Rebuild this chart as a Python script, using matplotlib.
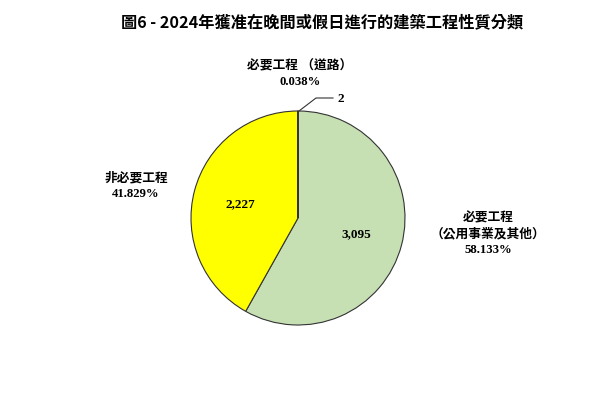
import matplotlib.pyplot as plt

plt.rcParams['font.family'] = ['Liberation Serif', 'Noto Sans CJK TC']

counts = [3095, 2227, 2]
cats = ['必要工程\n（公用事業及其他）', '非必要工程', '必要工程 （道路）']
shares = ['58.133%', '41.829%', '0.038%']
colors = ['#C6E0B4', '#FFFF00', '#C6E0B4']

fig = plt.figure(figsize=(6.01, 4.06), dpi=100)
ax = fig.add_axes([0, 0, 1, 1])

cx, cy, r = 298, 406 - 219, 107

wedges, texts = ax.pie(counts, colors=colors, startangle=90, counterclock=False,
                       center=(cx, cy), radius=r,
                       labels=[f'{c:,}' if c > 10 else '' for c in counts],
                       labeldistance=0.56,
                       wedgeprops=dict(edgecolor='#333333', linewidth=0.8),
                       textprops=dict(fontsize=9.5, fontweight='bold'))
for t in texts:
    t.set_ha('center')

# leader for the tiny slice
ax.plot([299, 316, 333], [406 - 112, 406 - 99, 406 - 99], color='#333333', lw=0.8)
ax.text(337, 406 - 99, str(counts[2]), fontsize=9.5, fontweight='bold', va='center')

lbl = dict(ha='center', va='center', fontsize=9.2, fontweight='bold', linespacing=1.35)
ax.text(300, 406 - 74, cats[2] + '\n' + shares[2], **lbl)
ax.text(136, 406 - 186, cats[1] + '\n' + shares[1], **lbl)
ax.text(488, 406 - 234, cats[0] + '\n' + shares[0], **lbl)

ax.set_xlim(0, 601)
ax.set_ylim(0, 406)
ax.axis('off')

fig.text(322 / 601, 1 - 22 / 406, '圖6 - 2024年獲准在晚間或假日進行的建築工程性質分類',
         ha='center', va='center', fontsize=11.7, fontweight='bold',
         family=['Noto Sans CJK TC'])

fig.savefig('out.png', dpi=100)
